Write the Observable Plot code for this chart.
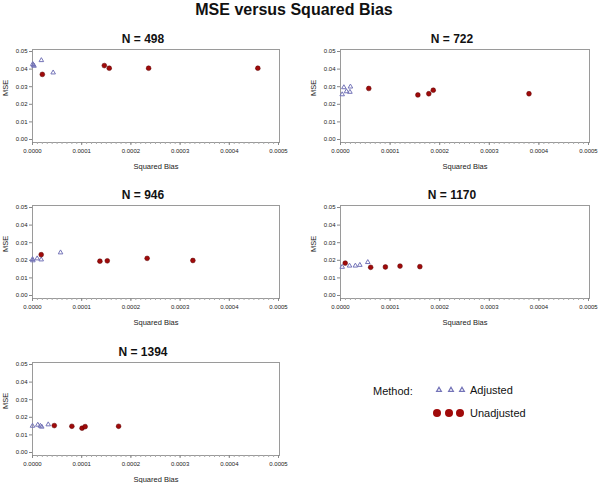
<!DOCTYPE html>
<html><head><meta charset="utf-8">
<script src="https://cdn.jsdelivr.net/npm/d3@7"></script>
<script src="https://cdn.jsdelivr.net/npm/@observablehq/plot@0.6"></script>
<style>
body{margin:0;background:#fff;font-family:"Liberation Sans",Arial,sans-serif;}
#root{position:relative;width:600px;height:483px;background:#fff;overflow:hidden}
.abs{position:absolute}
#title{position:absolute;left:0;top:1px;width:588px;text-align:center;font-weight:bold;font-size:16px;color:#111}
</style></head><body><div id="root"><div id="title">MSE versus Squared Bias</div></div>
<script>
// ---- data ----
const panelN = [498, 722, 946, 1170, 1394];
const adjustedBias = [
  [0.0000005, 0.000002, 0.000003, 0.000018, 0.000042],
  [0.0000034, 0.0000068, 0.000012, 0.000019, 0.00002],
  [0.0, 0.0000007, 0.0000095, 0.0000177, 0.000057],
  [0.0000034, 0.0000182, 0.00003, 0.000039, 0.000055],
  [0.0, 0.0000107, 0.000016, 0.0000188, 0.000032]
];
const adjustedMSE = [
  [0.0428, 0.0423, 0.0418, 0.045, 0.038],
  [0.0256, 0.0296, 0.0273, 0.027, 0.030],
  [0.0206, 0.0199, 0.021, 0.0204, 0.0244],
  [0.0162, 0.0169, 0.0169, 0.0173, 0.0189],
  [0.0151, 0.0157, 0.0151, 0.0146, 0.0159]
];
const unadjustedBias = [
  [0.00002, 0.000146, 0.000156, 0.000236, 0.000458],
  [0.000057, 0.000156, 0.000178, 0.000187, 0.00038],
  [0.0000177, 0.000137, 0.000152, 0.000233, 0.000326],
  [0.0000095, 0.0000608, 0.0000905, 0.00012, 0.00016],
  [0.0000443, 0.00008, 0.0001007, 0.000107, 0.000175]
];
const unadjustedMSE = [
  [0.037, 0.042, 0.0405, 0.0405, 0.0405],
  [0.029, 0.0253, 0.026, 0.028, 0.026],
  [0.0232, 0.0195, 0.0197, 0.0211, 0.0199],
  [0.0184, 0.016, 0.0162, 0.0167, 0.0164],
  [0.0153, 0.0149, 0.0138, 0.0147, 0.0149]
];
const xTicks = [0, 0.0001, 0.0002, 0.0003, 0.0004, 0.0005];
const yTicks = [0, 0.01, 0.02, 0.03, 0.04, 0.05];
const methods = ["Adjusted", "Unadjusted"];

const adjColor = "#7474b8", unadjColor = "#a00a0a";
const cells = [
  {left: 0, top: 30}, {left: 300, top: 30},
  {left: 0, top: 186}, {left: 300, top: 186},
  {left: 0, top: 343}
];
const minorX = d3.range(0, 0.00050001, 0.00001);
const root = document.getElementById("root");

panelN.forEach((n, i) => {
  const adj = adjustedBias[i].map((b, j) => ({bias: b, mse: adjustedMSE[i][j]}));
  const unadj = unadjustedBias[i].map((b, j) => ({bias: b, mse: unadjustedMSE[i][j]}));
  const isLeft = cells[i].left === 0;
  const ml = isLeft ? 32 : 40, mr = isLeft ? 21 : 11;
  const chart = Plot.plot({
    width: 300, height: 150,
    marginLeft: ml, marginRight: mr, marginTop: 19, marginBottom: 38,
    style: {fontFamily: "Liberation Sans, Arial, sans-serif", background: "#fff", overflow: "visible"},
    x: {domain: [0, 0.0005], insetRight: 1},
    y: {domain: [0, 0.05], insetTop: 2, insetBottom: 3},
    marks: [
      Plot.frame({stroke: "#9a9a9a"}),
      Plot.axisX({ticks: minorX, tickSize: 2, text: null, stroke: "#aaa", label: null}),
      Plot.axisX({ticks: xTicks, tickFormat: d3.format(".4f"), tickSize: 3, tickPadding: 3, fontSize: 6, stroke: "#888", fill: "#222", label: null}),
      Plot.axisY({ticks: yTicks, tickFormat: d3.format(".2f"), tickSize: 3, tickPadding: 2, fontSize: 6, stroke: "#888", fill: "#222", label: null}),
      Plot.text(["Squared Bias"], {frameAnchor: "bottom", lineAnchor: "middle", dy: 24, fontSize: 7.5, fill: "#222"}),
      Plot.text(["MSE"], {frameAnchor: "left", lineAnchor: "middle", dx: -27, rotate: -90, fontSize: 7.5, fill: "#222"}),
      Plot.text([`N = ${n}`], {frameAnchor: "top", lineAnchor: "middle", dy: -10, dx: -13, fontSize: 12, fontWeight: "bold", fill: "#111"}),
      Plot.dot(adj, {x: "bias", y: "mse", symbol: "triangle", r: 1.7, stroke: adjColor, strokeWidth: 1, fill: "none"}),
      Plot.dot(unadj, {x: "bias", y: "mse", r: 2.4, fill: unadjColor, stroke: "#5a0000", strokeWidth: 0.5})
    ]
  });
  chart.classList.add("abs");
  chart.style.left = cells[i].left + "px";
  chart.style.top = cells[i].top + "px";
  root.appendChild(chart);
});

// legend
const lg = d3.create("svg").attr("width", 300).attr("height", 70)
  .attr("class", "abs").style("left", "300px").style("top", "370px")
  .style("font-family", "Liberation Sans, Arial, sans-serif");
lg.append("text").attr("x", 73).attr("y", 21).attr("dy", "0.35em").attr("font-size", 11).attr("fill", "#111").text("Method:");
const rows = [{y: 20}, {y: 43}];
methods.forEach((m, k) => {
  const g = lg.append("g");
  [139, 151, 162].forEach(cx => {
    if (k === 0) {
      g.append("path").attr("transform", `translate(${cx},${rows[k].y})`)
        .attr("d", d3.symbol(d3.symbolTriangle, Math.PI * 3.2)()).attr("fill", "none").attr("stroke", adjColor).attr("stroke-width", 1.2);
    } else {
      g.append("circle").attr("cx", cx - 2).attr("cy", rows[k].y).attr("r", 4).attr("fill", unadjColor);
    }
  });
  g.append("text").attr("x", 170).attr("y", rows[k].y).attr("dy", "0.35em").attr("font-size", 11).attr("fill", "#111").text(m);
});
root.appendChild(lg.node());
</script>
</body></html>
